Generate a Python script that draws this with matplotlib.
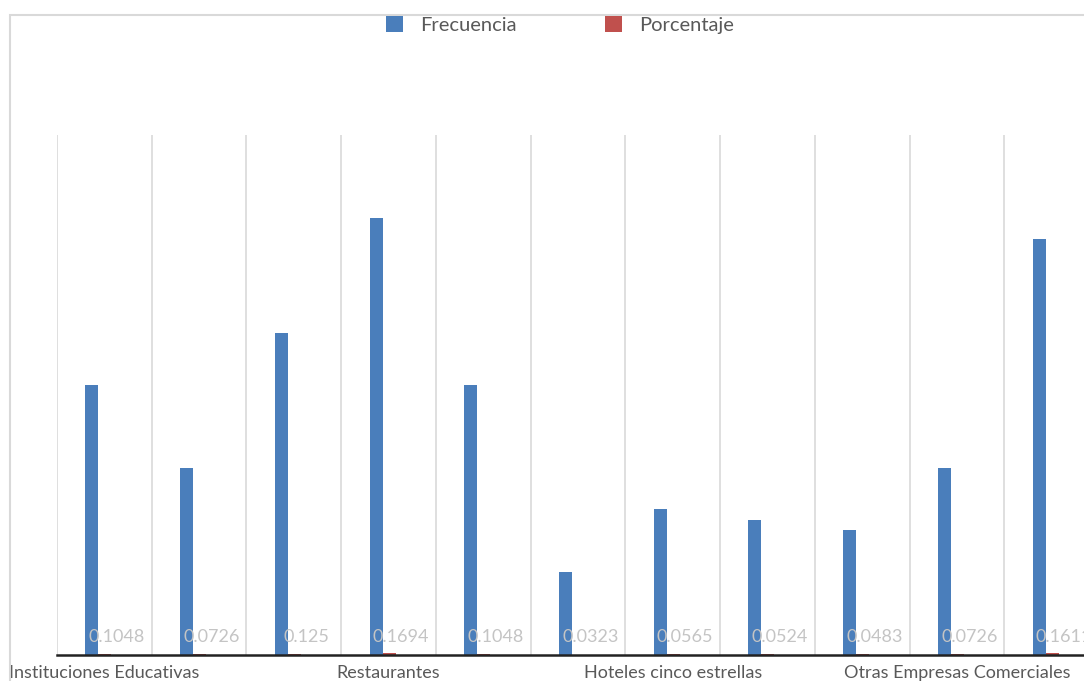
import matplotlib.pyplot as plt
from matplotlib.patches import Rectangle
import numpy as np

# datos
categorias = ["Instituciones Educativas", "", "", "Restaurantes", "", "",
              "Hoteles cinco estrellas", "", "", "Otras Empresas Comerciales", ""]
frecuencia = [26, 18, 31, 42, 26, 8, 14, 13, 12, 18, 40]
porcentaje = [0.1048, 0.0726, 0.125, 0.1694, 0.1048, 0.0323,
              0.0565, 0.0524, 0.0483, 0.0726, 0.1611]

azul = '#4a7ebb'
rojo = '#c0504d'
gris = '#d9d9d9'

W, H = 1084, 681
fig = plt.figure(figsize=(W / 100, H / 100), dpi=100)
ax = fig.add_axes([57 / W, 26 / H, 1042 / W, 520 / H])

x = np.arange(len(frecuencia))
ancho = 0.137
ax.bar(x - 0.132, frecuencia, ancho, color=azul, label='Frecuencia', zorder=3)
ax.bar(x + 0.005, porcentaje, ancho, color=rojo, label='Porcentaje', zorder=2)

# etiquetas de porcentaje
for xi, p in zip(x, porcentaje):
    ax.annotate(f"{p:g}", xy=(xi + 0.005, 0), xytext=(12, 10),
                textcoords='offset pixels', ha='center', va='bottom',
                fontsize=13, family='Lato', color='#c4c4c4', zorder=4,
                annotation_clip=False)

ax.set_xlim(-0.5, len(x) - 0.5)
ax.set_ylim(0, 50)
ax.set_xticks(x)
ax.set_xticklabels(categorias, family='Lato', fontsize=13, color='#595959')
ax.set_xticks(np.arange(-0.5, len(x) + 0.5, 1), minor=True)
ax.tick_params(axis='x', which='both', length=0, pad=7)
ax.set_yticks([])
ax.grid(axis='x', which='minor', color=gris, lw=1.2, zorder=0)
for s in ['left', 'top', 'right']:
    ax.spines[s].set_visible(False)
ax.spines['bottom'].set_color('#222222')
ax.spines['bottom'].set_linewidth(1.8)
ax.spines['bottom'].set_zorder(5)

# marco del grafico
fig.add_artist(Rectangle((10 / W, -0.05), 1.2, 1.05 - 15 / H,
                         transform=fig.transFigure, fill=False,
                         ec=gris, lw=1.5))

fig.legend(loc='center', bbox_to_anchor=(560 / W, 1 - 25 / H), ncol=2,
           frameon=False, prop={'family': 'Lato', 'size': 14.5},
           handlelength=0.85, handleheight=0.85, handletextpad=0.85,
           columnspacing=4.4, labelcolor='#595959')

fig.savefig('out.png', dpi=100)
